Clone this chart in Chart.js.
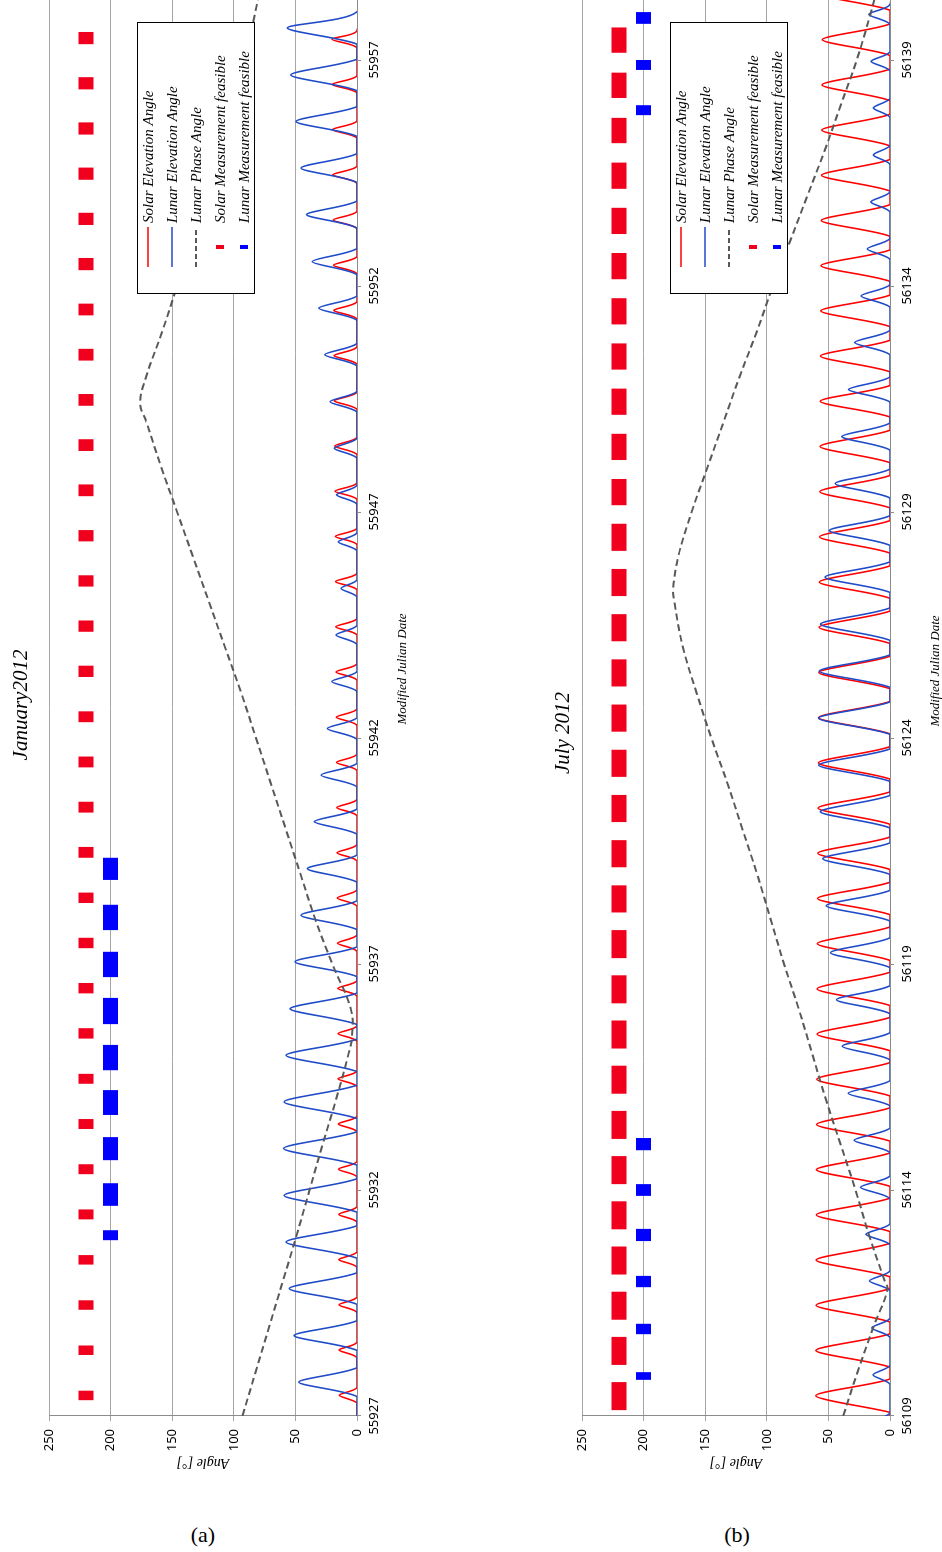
<!DOCTYPE html>
<html lang="en">
<head>
<meta charset="UTF-8">
<title>Solar and lunar angles, January and July 2012</title>
<script src="https://cdn.jsdelivr.net/npm/chart.js@4.4.1/dist/chart.umd.min.js"></script>
<style>
  body { margin: 0; background: #fff; width: 942px; height: 1552px; position: relative; overflow: hidden; }
  canvas.rot { position: absolute; transform-origin: 0 0; transform: rotate(-90deg); }
  .cap { position: absolute; top: 1521px; width: 60px; text-align: center; font: 22px/28px "Liberation Serif", serif; }
</style>
</head>
<body>
<canvas id="chartA" class="rot" width="1480" height="409" style="left:0;top:1480px;width:1480px;height:409px"></canvas>
<canvas id="chartB" class="rot" width="1480" height="409" style="left:533px;top:1480px;width:1480px;height:409px"></canvas>
<div class="cap" style="left:173px">(a)</div>
<div class="cap" style="left:707px">(b)</div>
<script>
// ---- January 2012 (a) ----
const janTicks = [55927, 55932, 55937, 55942, 55947, 55952, 55957];
const janDays = [55927, 55928, 55929, 55930, 55931, 55932, 55933, 55934, 55935, 55936, 55937, 55938, 55939, 55940, 55941, 55942,
  55943, 55944, 55945, 55946, 55947, 55948, 55949, 55950, 55951, 55952, 55953, 55954, 55955, 55956, 55957];
const janSunPeak = [14.4, 14.5, 14.6, 14.7, 14.8, 15.0, 15.1, 15.3, 15.4, 15.6, 15.8, 16.0, 16.2, 16.4, 16.6, 16.8,
  17.0, 17.2, 17.5, 17.7, 17.9, 18.1, 18.4, 18.6, 18.8, 19.1, 19.3, 19.6, 19.8, 20.1, 20.3];
const janSunHalf = [0.17, 0.17, 0.17, 0.17, 0.17, 0.17, 0.17, 0.17, 0.17, 0.17, 0.18, 0.18, 0.18, 0.18, 0.18, 0.18,
  0.18, 0.18, 0.18, 0.18, 0.18, 0.19, 0.19, 0.19, 0.19, 0.19, 0.19, 0.19, 0.19, 0.19, 0.19];
const janSolarFrom = [0.35, 0.35, 0.35, 0.35, 0.35, 0.35, 0.35, 0.35, 0.35, 0.35, 0.35, 0.35, 0.35, 0.35, 0.35, 0.35,
  0.35, 0.35, 0.35, 0.35, 0.35, 0.35, 0.35, 0.35, 0.35, 0.35, 0.35, 0.35, 0.35, 0.35, 0.35];
const janSolarTo = [0.56, 0.56, 0.56, 0.56, 0.57, 0.57, 0.57, 0.57, 0.58, 0.58, 0.58, 0.58, 0.59, 0.59, 0.59, 0.59,
  0.60, 0.60, 0.60, 0.60, 0.61, 0.61, 0.61, 0.61, 0.61, 0.62, 0.62, 0.62, 0.62, 0.62, 0.62];
const janMoonTime = [55927.75, 55928.78, 55929.82, 55930.85, 55931.88, 55932.92, 55933.95, 55934.98, 55936.01, 55937.05,
  55938.08, 55939.11, 55940.15, 55941.18, 55942.21, 55943.25, 55944.28, 55945.31, 55946.34, 55947.38,
  55948.41, 55949.44, 55950.48, 55951.51, 55952.54, 55953.58, 55954.61, 55955.64, 55956.67, 55957.71];
const janMoonPeak = [47.3, 51.0, 55.0, 57.6, 59.2, 59.7, 59.2, 57.6, 54.3, 50.3, 45.4, 40.3, 34.6, 29.2, 24.1,
  20.5, 17.0, 13.0, 15.2, 16.5, 18.4, 21.9, 26.2, 31.1, 36.3, 40.9, 45.5, 49.5, 53.8, 56.5];
const janMoonHalf = [0.32, 0.33, 0.35, 0.36, 0.37, 0.37, 0.37, 0.36, 0.35, 0.33, 0.32, 0.30, 0.28, 0.26, 0.24,
  0.22, 0.21, 0.19, 0.20, 0.21, 0.22, 0.23, 0.25, 0.27, 0.29, 0.30, 0.32, 0.33, 0.35, 0.36];
const janPhaseT = [55927, 55928, 55929, 55930, 55931, 55932, 55933, 55934, 55935, 55935.4, 55936, 55937, 55938, 55939,
  55940, 55941, 55942, 55943, 55944, 55945, 55946, 55947, 55948, 55949, 55949.4, 55950, 55951, 55952, 55953,
  55954, 55955, 55956, 55957, 55958, 55958.4];
const janPhase = [93, 82, 71, 60, 49, 38.5, 28, 17, 7, 4, 5, 20, 34, 46, 58, 70, 82, 94, 107, 120, 133, 146, 159, 171,
  176, 171, 158, 146, 134, 123, 111, 100, 91, 83, 80];
const janLunarWin = [[55930.89, 55931.11], [55931.65, 55932.15], [55932.66, 55933.17], [55933.66, 55934.21],
  [55934.65, 55935.21], [55935.67, 55936.25], [55936.71, 55937.27], [55937.75, 55938.31], [55938.86, 55939.35]];

// ---- July 2012 (b) ----
const julTicks = [56109, 56114, 56119, 56124, 56129, 56134, 56139];
const julDays = [56109, 56110, 56111, 56112, 56113, 56114, 56115, 56116, 56117, 56118, 56119, 56120, 56121, 56122, 56123, 56124,
  56125, 56126, 56127, 56128, 56129, 56130, 56131, 56132, 56133, 56134, 56135, 56136, 56137, 56138, 56139, 56140];
const julSunPeak = [60.3, 60.2, 60.1, 60.0, 59.9, 59.8, 59.6, 59.5, 59.3, 59.2, 59.0, 58.8, 58.6, 58.4, 58.2, 58.0,
  57.8, 57.6, 57.4, 57.2, 57.0, 56.8, 56.6, 56.4, 56.2, 56.0, 55.8, 55.6, 55.4, 55.2, 55.0, 54.8];
const julSunHalf = [0.37, 0.37, 0.37, 0.37, 0.37, 0.37, 0.37, 0.37, 0.37, 0.37, 0.37, 0.36, 0.36, 0.36, 0.36, 0.36,
  0.36, 0.36, 0.36, 0.36, 0.36, 0.36, 0.35, 0.35, 0.35, 0.35, 0.35, 0.35, 0.35, 0.35, 0.35, 0.35];
const julSolarFrom = [0.13, 0.13, 0.13, 0.13, 0.13, 0.13, 0.13, 0.13, 0.13, 0.13, 0.13, 0.14, 0.14, 0.14, 0.14, 0.14,
  0.14, 0.14, 0.14, 0.14, 0.15, 0.15, 0.15, 0.15, 0.15, 0.15, 0.15, 0.15, 0.16, 0.16, 0.16];
const julSolarTo = [0.75, 0.75, 0.75, 0.75, 0.75, 0.75, 0.75, 0.75, 0.75, 0.75, 0.75, 0.74, 0.74, 0.74, 0.74, 0.74,
  0.74, 0.74, 0.74, 0.74, 0.73, 0.73, 0.73, 0.73, 0.73, 0.73, 0.73, 0.73, 0.72, 0.72, 0.72];
const julMoonTime = [56108.87, 56109.91, 56110.95, 56111.99, 56113.02, 56114.06, 56115.10, 56116.14, 56117.18, 56118.21,
  56119.25, 56120.29, 56121.33, 56122.37, 56123.40, 56124.44, 56125.48, 56126.52, 56127.56, 56128.59,
  56129.63, 56130.67, 56131.71, 56132.75, 56133.78, 56134.82, 56135.86, 56136.90, 56137.94, 56138.97, 56140.01];
const julMoonPeak = [12.5, 13.8, 14.8, 16.7, 19.6, 24.0, 29.1, 33.9, 38.8, 43.4, 48.3, 51.8, 54.6, 56.5, 57.8, 58.0,
  57.4, 56.3, 52.7, 49.2, 44.5, 39.1, 33.6, 28.7, 23.5, 18.5, 15.5, 13.5, 13.5, 15.3, 17.2];
const julMoonHalf = [0.20, 0.21, 0.21, 0.22, 0.23, 0.25, 0.27, 0.28, 0.30, 0.31, 0.33, 0.34, 0.35, 0.36, 0.36, 0.36,
  0.36, 0.36, 0.34, 0.33, 0.32, 0.30, 0.28, 0.27, 0.25, 0.23, 0.22, 0.21, 0.21, 0.21, 0.22];
const julPhaseT = [56109, 56110, 56111, 56111.8, 56112, 56113, 56114, 56115, 56116, 56117, 56118, 56119, 56120, 56121,
  56122, 56123, 56124, 56125, 56126, 56127, 56127.3, 56128, 56129, 56130, 56131, 56132, 56133, 56134, 56135,
  56136, 56137, 56138, 56139, 56140, 56140.4];
const julPhase = [38, 26, 13, 2, 4.5, 17, 28, 40, 52, 63, 74, 86, 97, 108, 120, 132, 145, 157, 168, 175, 176, 172,
  161, 148, 135, 122, 108, 95, 81, 67, 53, 40, 27, 16, 12];
const julLunarWin = [[56109.80, 56109.97], [56110.81, 56111.04], [56111.85, 56112.10], [56112.87, 56113.14],
  [56113.87, 56114.13], [56114.88, 56115.15], [56137.78, 56138.00], [56138.78, 56139.00], [56139.80, 56140.06]];

const SOLAR_LEVEL = 220;
const LUNAR_LEVEL = 200;
const DAY_PX = 45.2;

// elevation curve: flat zero with one bump per transit
function bumps(times, peaks, halves, lo, hi) {
  const pts = [];
  times.forEach((t, i) => {
    pts.push({ x: t - halves[i], y: 0 }, { x: t, y: peaks[i] }, { x: t + halves[i], y: 0 });
  });
  if (pts[0].x > lo) pts.unshift({ x: lo, y: 0 });
  if (pts[pts.length - 1].x < hi) pts.push({ x: hi, y: 0 });
  return pts;
}

// short horizontal bars at a fixed level, broken with nulls
function bars(wins, level) {
  const pts = [];
  wins.forEach(w => { pts.push({ x: w[0], y: level }, { x: w[1], y: level }, { x: w[1], y: null }); });
  return pts;
}

const legendItems = [
  { text: 'Solar Elevation Angle', kind: 'line', color: '#ff0000' },
  { text: 'Lunar Elevation Angle', kind: 'line', color: '#1f4bc8' },
  { text: 'Lunar Phase Angle', kind: 'dash', color: '#595959' },
  { text: 'Solar Measurement feasible', kind: 'mark', color: '#f0001c' },
  { text: 'Lunar Measurement feasible', kind: 'mark', color: '#0000ff' }
];

// titles, axis titles and the boxed legend, in the unrotated frame
const decorPlugin = {
  id: 'decor',
  afterDraw(chart) {
    const o = chart.options.plugins.decor;
    const ctx = chart.ctx;
    ctx.save();
    ctx.fillStyle = '#000';
    ctx.textAlign = 'center';
    ctx.textBaseline = 'middle';
    ctx.font = 'italic 21px "Liberation Serif"';
    ctx.fillText(o.title, o.titleU, o.titleV);
    ctx.font = 'italic 13px "Liberation Serif"';
    ctx.fillText('Modified Julian Date', o.xTitleU, 403);
    ctx.save();
    ctx.translate(17, 203);
    ctx.rotate(-Math.PI / 2);
    ctx.font = 'italic 14px "Liberation Serif"';
    ctx.fillText('Angle [°]', 0, 0);
    ctx.restore();

    // legend box
    const L = 1186, T = 137, W = 272, H = 118;
    ctx.fillStyle = '#fff';
    ctx.fillRect(L, T, W, H);
    ctx.strokeStyle = '#000';
    ctx.lineWidth = 1;
    ctx.strokeRect(L + 0.5, T + 0.5, W - 1, H - 1);
    legendItems.forEach((it, i) => {
      const v = T + 11 + i * 24;
      ctx.save();
      if (it.kind === 'mark') {
        ctx.fillStyle = it.color;
        ctx.fillRect(1231, v - 4, 4, 8);
      } else {
        ctx.strokeStyle = it.color;
        ctx.lineWidth = it.kind === 'dash' ? 2 : 1.5;
        if (it.kind === 'dash') ctx.setLineDash([5, 3]);
        ctx.beginPath();
        ctx.moveTo(1213, v);
        ctx.lineTo(1253, v);
        ctx.stroke();
      }
      ctx.restore();
      ctx.fillStyle = '#000';
      ctx.textAlign = 'left';
      ctx.font = 'italic 15px "Liberation Serif"';
      ctx.fillText(it.text, 1257, v + 1);
    });
    ctx.restore();
  }
};

function makeChart(id, d) {
  const lo = d.ticks[0];
  const hi = lo + 1416 / DAY_PX;
  const sunTimes = d.days.map(x => x + d.noon);
  const solarWins = d.solarFrom.map((f, i) => [d.days[i] + f, d.days[i] + d.solarTo[i]]);
  const phasePts = d.phaseT.map((t, i) => ({ x: t, y: d.phase[i] }));
  const tickFont = { family: '"Noto Sans", sans-serif', size: 13 };
  return new Chart(document.getElementById(id), {
    type: 'line',
    data: {
      datasets: [
        { label: 'Solar Elevation Angle', data: bumps(sunTimes, d.sunPeak, d.sunHalf, lo, hi + 1),
          borderColor: '#ff0000', borderWidth: 1.6, tension: 0.25, order: 5 },
        { label: 'Lunar Elevation Angle', data: bumps(d.moonTime, d.moonPeak, d.moonHalf, lo, hi + 1),
          borderColor: '#1f4bc8', borderWidth: 1.6, tension: 0.25, order: 4 },
        { label: 'Lunar Phase Angle', data: phasePts,
          borderColor: '#595959', borderWidth: 2, borderDash: [7, 4], tension: 0.4, order: 3 },
        { label: 'Solar Measurement feasible', data: bars(solarWins, SOLAR_LEVEL),
          borderColor: '#f0001c', borderWidth: 15, borderCapStyle: 'butt', tension: 0, order: 2 },
        { label: 'Lunar Measurement feasible', data: bars(d.lunarWin, LUNAR_LEVEL),
          borderColor: '#0000ff', borderWidth: 15, borderCapStyle: 'butt', tension: 0, order: 1 }
      ]
    },
    options: {
      responsive: false,
      animation: false,
      devicePixelRatio: 1,
      spanGaps: false,
      elements: { point: { radius: 0, hoverRadius: 0 }, line: { capBezierPoints: true, fill: false } },
      layout: { padding: { top: 49, right: 0, bottom: 0, left: 0 } },
      plugins: {
        legend: { display: false },
        tooltip: { enabled: false },
        title: { display: false },
        decor: d.decor
      },
      scales: {
        x: {
          type: 'linear', min: lo, max: hi,
          afterBuildTicks: s => { s.ticks = d.ticks.map(v => ({ value: v })); },
          afterFit: s => { s.height = 52; },
          grid: { drawOnChartArea: false, drawTicks: true, tickLength: 4, color: '#8c8c8c' },
          border: { color: '#8c8c8c' },
          ticks: { autoSkip: false, maxRotation: 0, padding: 5, color: '#000', font: tickFont,
            callback: v => String(v) }
        },
        y: {
          min: 0, max: 250,
          afterFit: s => { s.width = 64; },
          grid: { color: '#a6a6a6', tickLength: 5 },
          border: { color: '#8c8c8c' },
          ticks: { stepSize: 50, padding: 8, color: '#000', font: tickFont }
        }
      }
    },
    plugins: [decorPlugin]
  });
}

makeChart('chartA', {
  ticks: janTicks, days: janDays, noon: 0.46, sunPeak: janSunPeak, sunHalf: janSunHalf,
  solarFrom: janSolarFrom, solarTo: janSolarTo, moonTime: janMoonTime, moonPeak: janMoonPeak,
  moonHalf: janMoonHalf, phaseT: janPhaseT, phase: janPhase, lunarWin: janLunarWin,
  decor: { title: 'January2012', titleU: 775, titleV: 21, xTitleU: 811 }
});

makeChart('chartB', {
  ticks: julTicks, days: julDays, noon: 0.45, sunPeak: julSunPeak, sunHalf: julSunHalf,
  solarFrom: julSolarFrom, solarTo: julSolarTo, moonTime: julMoonTime, moonPeak: julMoonPeak,
  moonHalf: julMoonHalf, phaseT: julPhaseT, phase: julPhase, lunarWin: julLunarWin,
  decor: { title: 'July 2012', titleU: 747, titleV: 30, xTitleU: 809 }
});
</script>
</body>
</html>
